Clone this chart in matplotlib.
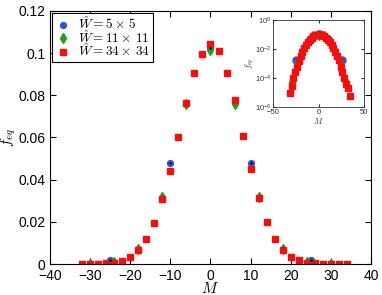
import numpy as np
import matplotlib
matplotlib.use('Agg')
import matplotlib.pyplot as plt

plt.rcParams['font.family'] = ['Liberation Sans', 'DejaVu Sans']
plt.rcParams['mathtext.fontset'] = 'cm'

# W = 5 x 5
m_small = [-25, -10, 0, 10, 25]
f_small = [0.0019, 0.0477, 0.1025, 0.0480, 0.0018]

# W = 11 x 11
m_mid = [-30, -24, -18, -12, -6, 0, 6, 12, 18, 24, 30]
f_mid = [6e-5, 0.0011, 0.0072, 0.0319, 0.0757, 0.1014,
         0.0757, 0.0317, 0.0072, 0.0011, 6e-5]

# W = 34 x 34
m_big = list(range(-32, 35, 2))
f_big = [1e-5, 3e-5, 1e-4, 2.5e-4, 6e-4, 0.0016, 0.0033, 0.0066, 0.0117,
         0.0193, 0.0307, 0.0441, 0.0603, 0.0764, 0.0908, 0.0995, 0.1043,
         0.1011, 0.0905, 0.0777, 0.0607, 0.0449, 0.0313, 0.0199, 0.0117,
         0.0066, 0.0033, 0.0017, 0.0006, 2.6e-4, 1e-4, 4e-5, 2.2e-5, 6e-6]

blue = '#2f52d8'
green = '#1fa01f'
red = '#f01010'

fig = plt.figure(figsize=(3.82, 2.95), dpi=100)
ax = fig.add_axes([0.131, 0.105, 0.840, 0.858])

ax.plot(m_small, f_small, 'o', color=blue, mec=blue, ms=4.2, ls='none',
        label=r'$\hat{W}=5\times\,5$')
ax.plot(m_mid, f_mid, 'd', color=green, mec=green, ms=5, ls='none',
        label=r'$\hat{W}=11\times\,11$')
ax.plot(m_big, f_big, 's', color=red, mec=red, ms=3.8, ls='none',
        label=r'$\hat{W}=34\times\,34$')
ax.plot(m_small, f_small, '.', color='k', ms=1.5, ls='none')

ax.set_xlim(-40, 40)
ax.set_ylim(0, 0.12)
ax.set_xticks(range(-40, 41, 10))
yt = [0, 0.02, 0.04, 0.06, 0.08, 0.1, 0.12]
ax.set_yticks(yt)
ax.set_yticklabels(['0', '0.02', '0.04', '0.06', '0.08', '0.1', '0.12'])
ax.tick_params(direction='in', top=True, right=True, length=4, labelsize=10)
ax.set_xlabel(r'$M$', fontsize=11, labelpad=-1)
ax.set_ylabel(r'$f_{eq}$', fontsize=11, labelpad=0)

leg = ax.legend(loc='upper left', fontsize=9.5, handlelength=1.2,
                handletextpad=0.6, borderpad=0.2, labelspacing=-0.25,
                borderaxespad=0.15, fancybox=False, framealpha=1,
                edgecolor='k')
leg.get_frame().set_linewidth(0.8)

# inset, log scale
axi = fig.add_axes([0.7155, 0.636, 0.238, 0.296])
axi.semilogy(m_small, f_small, 'o', color=blue, mec=blue, ms=5, ls='none')
axi.semilogy(m_mid, f_mid, 'd', color=green, mec=green, ms=5.5, ls='none')
axi.semilogy(m_big, f_big, 's', color=red, mec=red, ms=4.6, ls='none')
axi.set_xlim(-50, 50)
axi.set_ylim(1e-6, 1)
axi.set_xticks([-50, 0, 50])
axi.set_yticks([1e-6, 1e-4, 1e-2, 1])
axi.minorticks_off()
axi.tick_params(direction='in', top=True, right=True, length=2,
                labelsize=5.5, pad=1.5, colors='#333333')
for s in axi.spines.values():
    s.set_linewidth(0.6)
    s.set_color('#333333')
axi.set_xlabel(r'$M$', fontsize=6, labelpad=0, color='#333333')
axi.set_ylabel(r'$f_{eq}$', fontsize=6, labelpad=-1, color='#333333')

fig.savefig('out.png', dpi=100)
